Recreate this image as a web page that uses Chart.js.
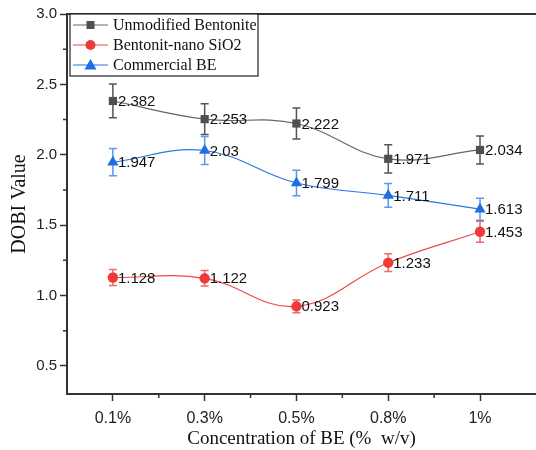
<!DOCTYPE html>
<html>
<head>
<meta charset="utf-8">
<script src="https://cdn.jsdelivr.net/npm/chart.js@4"></script>
<style>
  html, body { margin: 0; padding: 0; background: #fff; }
  #wrap { width: 536px; height: 450px; }
</style>
</head>
<body>
<div id="wrap"><canvas id="dobiChart" width="536" height="450"></canvas></div>
<script>
// Data
const concentrations = ['0.1%', '0.3%', '0.5%', '0.8%', '1%'];
const unmodified    = [2.382, 2.253, 2.222, 1.971, 2.034];
const unmodifiedErr = [0.12, 0.11, 0.11, 0.10, 0.10];
const nanoSiO2      = [1.128, 1.122, 0.923, 1.233, 1.453];
const nanoSiO2Err   = [0.057, 0.055, 0.045, 0.063, 0.075];
const commercial    = [1.947, 2.03, 1.799, 1.711, 1.613];
const commercialErr = [0.097, 0.10, 0.09, 0.084, 0.078];
const yTickValues   = [0.5, 1.0, 1.5, 2.0, 2.5, 3.0];

const toPoints = arr => arr.map((v, i) => ({ x: i, y: v }));

const series = [
  { label: 'Unmodified Bentonite', data: unmodified, err: unmodifiedErr,
    color: '#505050', line: '#666666', bar: '#555555', shape: 'rect', radius: 5.8 },
  { label: 'Bentonit-nano SiO2', data: nanoSiO2, err: nanoSiO2Err,
    color: '#f03a3a', line: '#f04848', bar: '#f06a6a', shape: 'circle', radius: 5.2 },
  { label: 'Commercial BE', data: commercial, err: commercialErr,
    color: '#1d6fe3', line: '#2a78e4', bar: '#5a98ea', shape: 'triangle', radius: 6.5 }
];

// error bars, minor ticks, frame top, value labels, legend box
const extrasPlugin = {
  id: 'extras',
  beforeDatasetsDraw(chart) {
    const ctx = chart.ctx, ys = chart.scales.y;
    ctx.save();
    chart.data.datasets.forEach((ds, di) => {
      const meta = chart.getDatasetMeta(di);
      ctx.strokeStyle = series[di].bar;
      ctx.lineWidth = 1.5;
      meta.data.forEach((pt, i) => {
        const v = series[di].data[i], e = series[di].err[i];
        const top = ys.getPixelForValue(v + e), bot = ys.getPixelForValue(v - e);
        ctx.beginPath();
        ctx.moveTo(pt.x, top); ctx.lineTo(pt.x, bot);
        ctx.moveTo(pt.x - 4, top); ctx.lineTo(pt.x + 4, top);
        ctx.moveTo(pt.x - 4, bot); ctx.lineTo(pt.x + 4, bot);
        ctx.stroke();
      });
    });
    ctx.restore();
  },
  afterDraw(chart) {
    const ctx = chart.ctx, xs = chart.scales.x, ys = chart.scales.y;
    const area = chart.chartArea;
    ctx.save();
    // top frame line
    ctx.strokeStyle = '#333';
    ctx.lineWidth = 2;
    ctx.beginPath();
    ctx.moveTo(area.left, area.top); ctx.lineTo(area.right, area.top);
    ctx.stroke();
    // minor ticks
    ctx.lineWidth = 1.5;
    ctx.beginPath();
    for (let v = 0.75; v < 3; v += 0.5) {
      const py = ys.getPixelForValue(v);
      ctx.moveTo(area.left - 4, py); ctx.lineTo(area.left, py);
    }
    for (let i = 0; i < concentrations.length - 1; i++) {
      const px = xs.getPixelForValue(i + 0.5);
      ctx.moveTo(px, area.bottom); ctx.lineTo(px, area.bottom + 4);
    }
    ctx.stroke();

    // value labels
    ctx.fillStyle = '#111';
    ctx.font = '15px "Liberation Sans", Arial, sans-serif';
    ctx.textAlign = 'left';
    ctx.textBaseline = 'middle';
    chart.data.datasets.forEach((ds, di) => {
      chart.getDatasetMeta(di).data.forEach((pt, i) => {
        ctx.fillText(String(series[di].data[i]), pt.x + 5, pt.y + 1);
      });
    });

    // legend
    const lx = area.left + 3, ly = area.top, lw = 188, lh = 62;
    ctx.fillStyle = '#fff';
    ctx.fillRect(lx, ly, lw, lh);
    ctx.strokeStyle = '#222';
    ctx.lineWidth = 1.2;
    ctx.strokeRect(lx, ly, lw, lh);
    ctx.font = '16px "Liberation Serif", "Times New Roman", serif';
    series.forEach((s, i) => {
      const cy = ly + 11 + i * 20;
      ctx.strokeStyle = s.line;
      ctx.lineWidth = 1.2;
      ctx.beginPath();
      ctx.moveTo(lx + 3, cy); ctx.lineTo(lx + 38, cy);
      ctx.stroke();
      ctx.fillStyle = s.color;
      if (s.shape === 'rect') {
        ctx.fillRect(lx + 16.5, cy - 4, 8, 8);
      } else if (s.shape === 'circle') {
        ctx.beginPath(); ctx.arc(lx + 20.5, cy, 5, 0, Math.PI * 2); ctx.fill();
      } else {
        ctx.beginPath();
        ctx.moveTo(lx + 20.5, cy - 6); ctx.lineTo(lx + 26.5, cy + 4.5); ctx.lineTo(lx + 14.5, cy + 4.5);
        ctx.closePath(); ctx.fill();
      }
      ctx.fillStyle = '#111';
      ctx.fillText(s.label, lx + 43, cy + 1);
    });
    ctx.restore();
  }
};

window.addEventListener('DOMContentLoaded', () => {
  const ctx = document.getElementById('dobiChart').getContext('2d');
  new Chart(ctx, {
    type: 'line',
    data: {
      datasets: series.map(s => ({
        label: s.label,
        data: toPoints(s.data),
        borderColor: s.line,
        borderWidth: 1.2,
        backgroundColor: s.color,
        pointBackgroundColor: s.color,
        pointBorderWidth: 0,
        pointStyle: s.shape,
        pointRadius: s.radius,
        tension: 0.4,
        fill: false,
        clip: false
      }))
    },
    options: {
      responsive: false,
      animation: false,
      events: [],
      layout: { autoPadding: false, padding: { top: 14, right: 0, left: 0, bottom: 0 } },
      plugins: { legend: { display: false }, tooltip: { enabled: false } },
      scales: {
        x: {
          type: 'linear',
          min: -0.5,
          max: 4.61,
          afterBuildTicks: sc => { sc.ticks = concentrations.map((c, i) => ({ value: i })); },
          afterFit: sc => { sc.height = 56; sc.paddingLeft = 0; sc.paddingRight = 0; },
          ticks: {
            callback: v => concentrations[v] ?? '',
            font: { family: '"Liberation Sans", Arial, sans-serif', size: 16 },
            color: '#222',
            padding: 8,
            maxRotation: 0
          },
          grid: { drawOnChartArea: false, tickLength: 7, tickColor: '#333', tickWidth: 1.5 },
          border: { display: true, color: '#333', width: 2 },
          title: {
            display: true,
            text: 'Concentration of BE (%  w/v)',
            font: { family: '"Liberation Serif", "Times New Roman", serif', size: 19 },
            color: '#111',
            padding: { top: 0, bottom: 0 }
          }
        },
        y: {
          min: 0.3,
          max: 3.0,
          afterBuildTicks: sc => { sc.ticks = yTickValues.map(v => ({ value: v })); },
          afterFit: sc => { sc.width = 67; sc.paddingTop = 0; sc.paddingBottom = 0; },
          ticks: {
            callback: v => v.toFixed(1),
            font: { family: '"Liberation Sans", Arial, sans-serif', size: 15 },
            color: '#222',
            padding: 3
          },
          grid: { drawOnChartArea: false, tickLength: 7, tickColor: '#333', tickWidth: 1.5 },
          border: { display: true, color: '#333', width: 2 },
          title: {
            display: true,
            text: 'DOBI Value',
            font: { family: '"Liberation Serif", "Times New Roman", serif', size: 20 },
            color: '#111',
            padding: { top: 8, bottom: 0 }
          }
        }
      }
    },
    plugins: [extrasPlugin]
  });
});
</script>
</body>
</html>
